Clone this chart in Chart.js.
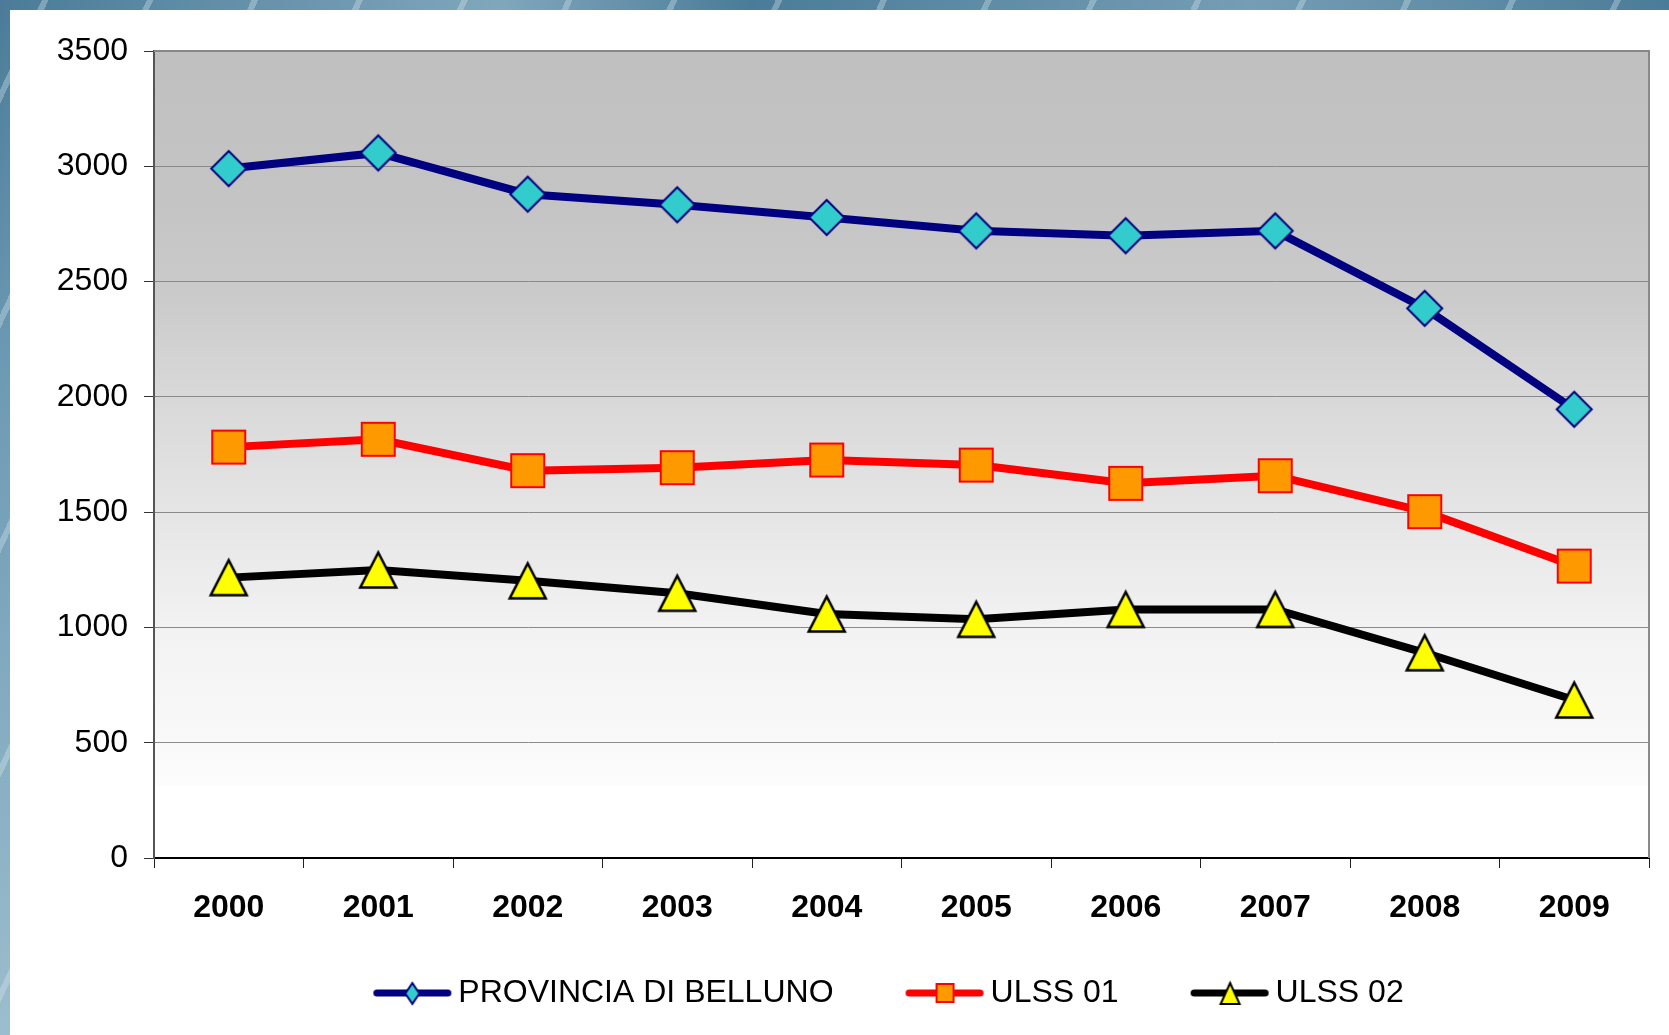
<!DOCTYPE html>
<html>
<head>
<meta charset="utf-8">
<script src="https://cdn.jsdelivr.net/npm/chart.js"></script>
<style>
  html, body { margin: 0; padding: 0; }
  body {
    width: 1669px;
    height: 1035px;
    position: relative;
    overflow: hidden;
    background:
      repeating-linear-gradient(115deg, rgba(255,255,255,0) 0 38px, rgba(215,232,240,0.35) 38px 44px, rgba(255,255,255,0) 44px 95px),
      linear-gradient(90deg, rgba(180,210,222,0) 0%, rgba(180,210,222,0.5) 30%, rgba(180,210,222,0) 45%, rgba(180,210,222,0.4) 75%, rgba(180,210,222,0) 100%),
      linear-gradient(180deg, #4b7b98 0%, #6c99b3 35%, #9cbdcd 100%);
  }
  #panel {
    position: absolute;
    left: 10px;
    top: 10px;
    width: 1659px;
    height: 1025px;
    background: #fff;
  }
  #chart { display: block; }
</style>
</head>
<body>
<div id="panel"><canvas id="chart" width="1659" height="1025"></canvas></div>
<script>
// DATA
const years = ["2000", "2001", "2002", "2003", "2004", "2005", "2006", "2007", "2008", "2009"];
const provincia = [2990, 3058, 2879, 2833, 2778, 2720, 2699, 2720, 2384, 1946];
const ulss01 = [1782, 1816, 1680, 1693, 1726, 1704, 1625, 1658, 1502, 1266];
const ulss02 = [1216, 1249, 1202, 1148, 1058, 1035, 1078, 1078, 890, 685];
const seriesNames = ["PROVINCIA DI BELLUNO", "ULSS 01", "ULSS 02"];
const yMax = 3500;
const yStep = 500;

Chart.defaults.font.family = "'Liberation Sans', Arial, sans-serif";

// MARKERS
function makeMarker(shape, w, h, fill, stroke, lw) {
  const c = document.createElement("canvas");
  c.width = Math.ceil(w + 2 * lw + 2);
  c.height = Math.ceil(h + 2 * lw + 2);
  const x = c.getContext("2d");
  const cx = c.width / 2, cy = c.height / 2;
  x.beginPath();
  if (shape === "diamond") {
    x.moveTo(cx, cy - h / 2);
    x.lineTo(cx + w / 2, cy);
    x.lineTo(cx, cy + h / 2);
    x.lineTo(cx - w / 2, cy);
  } else if (shape === "square") {
    x.rect(cx - w / 2, cy - h / 2, w, h);
  } else {
    x.moveTo(cx, cy - h / 2);
    x.lineTo(cx + w / 2, cy + h / 2);
    x.lineTo(cx - w / 2, cy + h / 2);
  }
  x.closePath();
  x.fillStyle = fill;
  x.fill();
  x.lineWidth = lw;
  x.lineJoin = "miter";
  x.strokeStyle = stroke;
  x.stroke();
  return c;
}

// legend icon: line + marker, drawn a bit left of the text
function makeLegendIcon(color, marker) {
  const c = document.createElement("canvas");
  c.width = 151;
  c.height = 30;
  const x = c.getContext("2d");
  x.strokeStyle = color;
  x.lineWidth = 7;
  x.lineCap = "round";
  x.beginPath();
  x.moveTo(75.5, 15);
  x.lineTo(146.5, 15);
  x.stroke();
  x.drawImage(marker, Math.round(111 - marker.width / 2), Math.round(15 - marker.height / 2));
  return c;
}

const diamondBig = makeMarker("diamond", 35, 35, "#33cccc", "#000080", 2);
const squareBig = makeMarker("square", 33, 33, "#ff9900", "#ff0000", 2);
const triangleBig = makeMarker("triangle", 36, 35, "#ffff00", "#000000", 2.5);

const legendIcons = [
  makeLegendIcon("#000080", makeMarker("diamond", 14, 21, "#33cccc", "#000080", 2)),
  makeLegendIcon("#ff0000", makeMarker("square", 17, 18, "#ff9900", "#ff0000", 2)),
  makeLegendIcon("#000000", makeMarker("triangle", 19, 21, "#ffff00", "#000000", 2))
];

// PLOT BACKGROUND + FRAME
const plotBg = {
  id: "plotBg",
  beforeDraw(chart) {
    const { ctx, chartArea: a } = chart;
    const g = ctx.createLinearGradient(0, a.top, 0, a.bottom);
    g.addColorStop(0, "#c0c0c0");
    g.addColorStop(0.185, "#c4c4c4");
    g.addColorStop(0.31, "#cbcbcb");
    g.addColorStop(0.395, "#d5d5d5");
    g.addColorStop(0.57, "#e5e5e5");
    g.addColorStop(0.714, "#f2f2f2");
    g.addColorStop(0.854, "#f9f9f9");
    g.addColorStop(0.91, "#fcfcfc");
    g.addColorStop(0.912, "#ffffff");
    g.addColorStop(1, "#ffffff");
    ctx.save();
    ctx.fillStyle = g;
    ctx.fillRect(a.left, a.top, a.right - a.left, a.bottom - a.top);
    ctx.restore();
  },
  beforeDatasetsDraw(chart) {
    const { ctx, chartArea: a } = chart;
    ctx.save();
    ctx.strokeStyle = "#888888";
    ctx.lineWidth = 2;
    ctx.beginPath();
    ctx.moveTo(a.left, a.top);
    ctx.lineTo(a.right, a.top);
    ctx.lineTo(a.right, a.bottom);
    ctx.stroke();
    ctx.restore();
  }
};

// nudge the legend so it sits under the plot like the original
const legendShift = {
  id: "legendShift",
  afterLayout(chart) {
    chart.legend.left += 8;
    chart.legend.right += 8;
  }
};

// CHART
new Chart(document.getElementById("chart"), {
  type: "line",
  data: {
    labels: years,
    datasets: [
      {
        label: seriesNames[0],
        data: provincia,
        borderColor: "#000080",
        borderWidth: 8,
        pointStyle: diamondBig,
        pointRadius: 18
      },
      {
        label: seriesNames[1],
        data: ulss01,
        borderColor: "#ff0000",
        borderWidth: 8,
        pointStyle: squareBig,
        pointRadius: 18
      },
      {
        label: seriesNames[2],
        data: ulss02,
        borderColor: "#000000",
        borderWidth: 8,
        pointStyle: triangleBig,
        pointRadius: 18
      }
    ]
  },
  options: {
    responsive: false,
    animation: false,
    layout: { autoPadding: false, padding: { left: 40, right: 20, top: 41, bottom: 16 } },
    scales: {
      x: {
        offset: true,
        grid: {
          offset: true,
          drawOnChartArea: false,
          tickLength: 10,
          tickColor: "#222222",
          lineWidth: 1
        },
        border: { color: "#000000", width: 2 },
        ticks: {
          padding: 21,
          color: "#000000",
          font: { size: 32, weight: "bold" }
        },
        afterFit(s) {
          s.height = 109;
          s.paddingLeft = 0;
          s.paddingRight = 0;
        }
      },
      y: {
        min: 0,
        max: yMax,
        ticks: {
          stepSize: yStep,
          padding: 16,
          color: "#000000",
          font: { size: 32 },
          callback: v => String(v)
        },
        grid: {
          color: "#8a8a8a",
          lineWidth: 1,
          tickLength: 10,
          tickColor: "#333333"
        },
        border: { color: "#555555", width: 2 },
        afterFit(s) {
          s.width = 104;
          s.paddingTop = 0;
          s.paddingBottom = 0;
        }
      }
    },
    plugins: {
      legend: {
        position: "bottom",
        labels: {
          usePointStyle: true,
          pointStyleWidth: 131,
          padding: 10,
          color: "#000000",
          font: { size: 32 },
          generateLabels(chart) {
            return chart.data.datasets.map((ds, i) => ({
              text: ds.label,
              pointStyle: legendIcons[i],
              datasetIndex: i,
              hidden: false,
              lineWidth: 0,
              fontColor: "#000000"
            }));
          }
        }
      },
      tooltip: { enabled: false }
    }
  },
  plugins: [plotBg, legendShift]
});
</script>
</body>
</html>
